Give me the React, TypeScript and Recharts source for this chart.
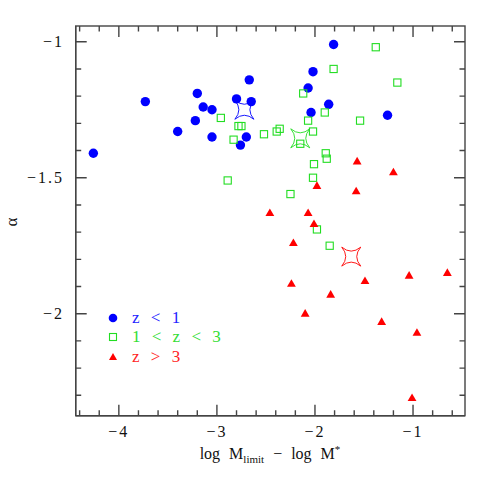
import { ScatterChart, Scatter, XAxis, YAxis } from 'recharts'

// [log Mlimit - log M*, alpha]
const lowZ: [number, number][] = [
  [-4.26, -1.41], [-3.73, -1.22], [-3.2, -1.19], [-3.14, -1.24], [-3.05, -1.25],
  [-3.22, -1.29], [-3.4, -1.33], [-3.05, -1.35], [-2.67, -1.14], [-2.8, -1.21],
  [-2.65, -1.22], [-2.7, -1.35], [-2.76, -1.38], [-1.81, -1.01], [-2.02, -1.11],
  [-2.07, -1.17], [-1.86, -1.23], [-2.04, -1.26], [-1.26, -1.27],
]
const midZ: [number, number][] = [
  [-2.96, -1.28], [-2.78, -1.31], [-2.75, -1.31], [-2.83, -1.36], [-2.52, -1.34],
  [-2.36, -1.32], [-2.39, -1.33], [-2.89, -1.51], [-1.38, -1.02], [-1.81, -1.1],
  [-1.16, -1.15], [-2.12, -1.19], [-1.9, -1.26], [-2.07, -1.29], [-1.54, -1.29],
  [-2.02, -1.33], [-2.15, -1.375], [-1.89, -1.41], [-1.88, -1.43], [-2.01, -1.45],
  [-2.02, -1.5], [-2.25, -1.56], [-1.98, -1.69], [-1.85, -1.75],
]
const highZ: [number, number][] = [
  [-2.46, -1.63], [-1.57, -1.44], [-1.2, -1.48], [-1.98, -1.53], [-1.58, -1.55],
  [-2.07, -1.63], [-2.01, -1.67], [-2.22, -1.74], [-1.04, -1.86], [-0.65, -1.85],
  [-1.49, -1.88], [-2.24, -1.89], [-1.84, -1.93], [-2.1, -2.0], [-1.32, -2.03],
  [-0.96, -2.07], [-1.01, -2.31],
]
// mean values (stars)
const lowZMean: [number, number][] = [[-2.72, -1.25]]
const midZMean: [number, number][] = [[-2.15, -1.355]]
const highZMean: [number, number][] = [[-1.63, -1.79]]

const xMajor = [-4, -3, -2, -1]
const xTicks = [-4.4, -4.2, -4, -3.8, -3.6, -3.4, -3.2, -3, -2.8, -2.6, -2.4, -2.2, -2, -1.8, -1.6, -1.4, -1.2, -1, -0.8, -0.6]
const yMajor = [-1, -1.5, -2]
const yTicks = [-2.3, -2.2, -2.1, -2, -1.9, -1.8, -1.7, -1.6, -1.5, -1.4, -1.3, -1.2, -1.1, -1]

const legendItems = [
  { label: 'z < 1', color: '#0000ff', text: '#2222ff', shape: 'circle' },
  { label: '1 < z < 3', color: '#22dd22', text: '#33dd33', shape: 'square' },
  { label: 'z > 3', color: '#ff0000', text: '#ff2222', shape: 'triangle' },
]

const BLUE = '#0000ff'
const GREEN = '#22dd22'
const RED = '#ff0000'
const AXIS = '#444'
const FONT = '"Liberation Serif", "DejaVu Serif", serif'

const W = 491
const H = 491
const LEFT = 75.7
const TOP = 26
const RIGHT = 465
const BOTTOM = 415.7

const toPoints = (arr: [number, number][]) => arr.map(([x, y]) => ({ x, y }))
const fmt = (v: number) => (v < 0 ? '\u2212' + String(-v) : String(v))
const isMajor = (v: number, list: number[]) => list.some((m) => Math.abs(m - v) < 1e-6)

const XTick = (props: any) => {
  const { x, payload } = props
  const v = payload.value as number
  const major = isMajor(v, xMajor)
  const len = major ? 11 : 5.5
  return (
    <g>
      <path d={`M${x},${BOTTOM} V${BOTTOM - len} M${x},${TOP} V${TOP + len}`} stroke={AXIS} strokeWidth={1.4} fill="none" />
      {major && (
        <text x={x} y={437} textAnchor="middle" fontFamily={FONT} fontSize={16} letterSpacing={2} fill="#111">
          {fmt(v)}
        </text>
      )}
    </g>
  )
}

const YTick = (props: any) => {
  const { y, payload } = props
  const v = payload.value as number
  const major = isMajor(v, yMajor)
  const len = major ? 11 : 5.5
  return (
    <g>
      <path d={`M${LEFT},${y} H${LEFT + len} M${RIGHT},${y} H${RIGHT - len}`} stroke={AXIS} strokeWidth={1.4} fill="none" />
      {major && (
        <text x={64} y={y + 5.5} textAnchor="end" fontFamily={FONT} fontSize={16} letterSpacing={2} fill="#111">
          {fmt(v)}
        </text>
      )}
    </g>
  )
}

const XTitle = () => (
  <text x={270} y={459} textAnchor="middle" fontFamily={FONT} fontSize={16} wordSpacing={5} fill="#111">
    log M
    <tspan fontSize={11} dy={4}>limit</tspan>
    <tspan dy={-4}> {'\u2212'} log M</tspan>
    <tspan fontSize={11} dy={-6}>*</tspan>
  </text>
)

const YTitle = () => (
  <text x={17} y={222} textAnchor="middle" fontFamily={FONT} fontSize={17} fill="#111" transform="rotate(-90 17 222)">
    α
  </text>
)

const Dot = (props: any) => <circle cx={props.cx} cy={props.cy} r={4.7} fill={BLUE} />
const Square = (props: any) => (
  <rect x={props.cx - 3.6} y={props.cy - 3.6} width={7.2} height={7.2} fill="none" stroke={GREEN} strokeWidth={1.1} />
)
const Tri = (props: any) => (
  <path d={`M${props.cx},${props.cy - 4.6} L${props.cx + 4.4},${props.cy + 3} L${props.cx - 4.4},${props.cy + 3} Z`} fill={RED} />
)
const star = (color: string) => (props: any) => {
  const { cx, cy } = props
  const r = 9.5
  const c = 1.5
  const d = `M${cx - r},${cy - r} Q${cx},${cy - c} ${cx + r},${cy - r} Q${cx + c},${cy} ${cx + r},${cy + r} Q${cx},${cy + c} ${cx - r},${cy + r} Q${cx - c},${cy} ${cx - r},${cy - r} Z`
  return <path d={d} fill="none" stroke={color} strokeWidth={0.9} />
}

const LegendBox = () => (
  <div style={{ position: 'absolute', left: 106, top: 308, fontFamily: FONT, fontSize: 17, wordSpacing: 7, pointerEvents: 'none' }}>
    {legendItems.map((it) => (
      <div key={it.label} style={{ display: 'flex', alignItems: 'center', height: 19.5, whiteSpace: 'pre' }}>
        <svg width={14} height={14} style={{ marginRight: 12 }}>
          {it.shape === 'circle' && <circle cx={7} cy={7} r={4.3} fill={it.color} />}
          {it.shape === 'square' && <rect x={3.5} y={3.5} width={7} height={7} fill="none" stroke={it.color} strokeWidth={1.1} />}
          {it.shape === 'triangle' && <path d="M7,3 L11,10 L3,10 Z" fill={it.color} />}
        </svg>
        <span style={{ color: it.text }}>{it.label}</span>
      </div>
    ))}
  </div>
)

export default function App() {
  return (
    <div style={{ position: 'absolute', left: 0, top: 0, width: W, height: H, background: '#fff' }}>
      <ScatterChart width={W} height={H} margin={{ top: TOP, right: W - RIGHT, bottom: H - BOTTOM - 30, left: LEFT - 60 }}>
        <XAxis
          type="number"
          dataKey="x"
          domain={[-4.44, -0.47]}
          ticks={xTicks}
          interval={0}
          height={30}
          allowDataOverflow
          tickLine={false}
          axisLine={{ stroke: AXIS, strokeWidth: 1.4 }}
          tick={<XTick />}
          label={<XTitle />}
        />
        <YAxis
          type="number"
          dataKey="y"
          domain={[-2.375, -0.942]}
          ticks={yTicks}
          interval={0}
          width={60}
          allowDataOverflow
          tickLine={false}
          axisLine={{ stroke: AXIS, strokeWidth: 1.4 }}
          tick={<YTick />}
          label={<YTitle />}
        />
        <Scatter data={toPoints(lowZ)} shape={Dot} isAnimationActive={false} />
        <Scatter data={toPoints(midZ)} shape={Square} isAnimationActive={false} />
        <Scatter data={toPoints(highZ)} shape={Tri} isAnimationActive={false} />
        <Scatter data={toPoints(lowZMean)} shape={star(BLUE)} isAnimationActive={false} />
        <Scatter data={toPoints(midZMean)} shape={star(GREEN)} isAnimationActive={false} />
        <Scatter data={toPoints(highZMean)} shape={star(RED)} isAnimationActive={false} />
      </ScatterChart>
      <svg width={W} height={H} style={{ position: 'absolute', left: 0, top: 0, pointerEvents: 'none' }}>
        <rect x={LEFT} y={TOP} width={RIGHT - LEFT} height={BOTTOM - TOP} fill="none" stroke={AXIS} strokeWidth={1.4} />
      </svg>
      <LegendBox />
    </div>
  )
}
